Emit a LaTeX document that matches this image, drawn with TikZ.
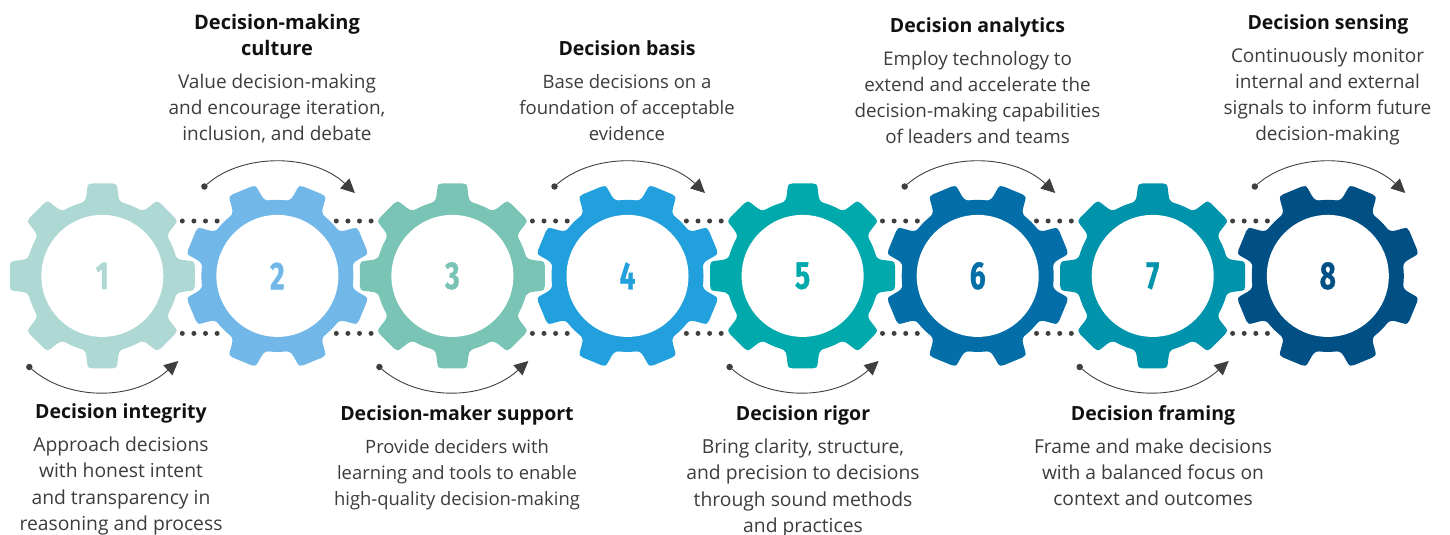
\documentclass[tikz,border=0pt]{standalone}
\usepackage{fontspec}
\usepackage{graphicx}
\setmainfont{Open Sans}
\newfontfamily\numfont[BoldFeatures={FakeBold=0.8}]{Fira Sans}
\usetikzlibrary{arrows.meta}
\definecolor{ga}{HTML}{AED8D3}
\definecolor{gb}{HTML}{71B7E8}
\definecolor{gc}{HTML}{7AC4B6}
\definecolor{gd}{HTML}{21A0DD}
\definecolor{ge}{HTML}{00A9AC}
\definecolor{gf}{HTML}{046EA8}
\definecolor{gg}{HTML}{0094AC}
\definecolor{gh}{HTML}{005085}
\definecolor{ink}{HTML}{403F3D}
\definecolor{bodyink}{HTML}{3C3C3C}
\definecolor{headink}{HTML}{111111}
\tikzset{
  x=1pt,y=-1pt,
  hole/.style={circle,fill=white,minimum size=122pt,inner sep=0pt,font=\numfont\bfseries\fontsize{39}{39}\selectfont},
  pin/.style={circle,fill=ink,minimum size=6.5pt,inner sep=0pt},
  dotpt/.style={circle,fill=ink,minimum size=5pt,inner sep=0pt},
  turn/.style={draw=ink,line width=0.9pt,-{Triangle[length=14pt,width=13.5pt]}},
  head/.style={font=\bfseries\fontsize{#1}{26}\selectfont,text=headink,align=center,inner sep=0pt,anchor=north},
  head/.default=19.5,
  txt/.style={font=\fontsize{#1}{26.1}\selectfont,text=bodyink,align=center,inner sep=0pt,anchor=north},
  txt/.default=19,
}
% #1 name, #2 centre x, #3 colour, #4 start angle, #5 number
\newcommand{\gearat}[5]{%
  \begin{scope}[shift={(#2,275.9)}]
    \fill[#3] (0,0) circle[radius=76];
    \foreach \a in {0,45,...,315}{
      \fill[#3,rotate=\a+#4] (70,-27) .. controls (73,-19) and (75,-16.5) .. (80,-16)
        -- (88,-15) .. controls (91.5,-14.7) and (92.5,-13) .. (92.5,-10)
        -- (92.5,10) .. controls (92.5,13) and (91.5,14.7) .. (88,15)
        -- (80,16) .. controls (75,16.5) and (73,19) .. (70,27) -- cycle;
    }
  \end{scope}
  \node[hole,text=#3] (#1) at (#2,275.9) {\scalebox{0.72}[1]{#5}};
}
% #1 id, #2 first dot x
\newcommand{\dotrow}[3]{%
  \foreach \k/\dx in {1/0,2/11.6,3/23.2,4/34.8}{
    \node[dotpt] (#1r\k) at (#2+\dx,#3) {};
  }
}
\newcommand{\toparc}[2]{%
  \node[pin] (#1p) at (#2-73,186.5) {};
  \coordinate (#1t) at (#2+77.5,193);
  \draw[turn] (#1p) .. controls (#2-35,153) and (#2+35,153) .. (#1t);
}
\newcommand{\botarc}[2]{%
  \node[pin] (#1p) at (#2-73,367) {};
  \coordinate (#1t) at (#2+76,361);
  \draw[turn] (#1p) .. controls (#2-35,400) and (#2+30,402) .. (#1t);
}
\begin{document}
\begin{tikzpicture}
\useasboundingbox (0,0) rectangle (1450,535);
% dotted links
\dotrow{a1}{182.3}{221}\dotrow{a2}{182.3}{333.4}
\dotrow{b1}{336.3}{221}\dotrow{b2}{336.3}{333.4}
\dotrow{c1}{532.4}{221}\dotrow{c2}{532.4}{333.4}
\dotrow{d1}{686.4}{221}\dotrow{d2}{686.4}{333.4}
\dotrow{e1}{882.5}{221}\dotrow{e2}{882.5}{333.4}
\dotrow{f1}{1036.5}{221}\dotrow{f2}{1036.5}{333.4}
\dotrow{g1}{1232.6}{221}\dotrow{g2}{1232.6}{333.4}
% gears
\gearat{n1}{102.3}{ga}{0}{1}
\gearat{n2}{277.4}{gb}{22.5}{2}
\gearat{n3}{452.4}{gc}{0}{3}
\gearat{n4}{627.5}{gd}{22.5}{4}
\gearat{n5}{802.6}{ge}{0}{5}
\gearat{n6}{977.7}{gf}{22.5}{6}
\gearat{n7}{1152.7}{gg}{0}{7}
\gearat{n8}{1327.8}{gh}{22.5}{8}
% arcs
\botarc{s1}{102.3}
\toparc{s2}{277.4}
\botarc{s3}{452.4}
\toparc{s4}{627.5}
\botarc{s5}{802.6}
\toparc{s6}{977.7}
\botarc{s7}{1152.7}
\toparc{s8}{1327.8}
% labels
\node[head=20] (h2) at (277,14) {Decision-making\\culture};
\node[txt] (t2) at (277,74) {Value decision-making\\and encourage iteration,\\inclusion, and debate};
\node[head] (h4) at (627,40) {Decision basis};
\node[txt=18.5] (t4) at (627,74) {Base decisions on a\\foundation of acceptable\\evidence};
\node[head] (h6) at (977.5,17) {Decision analytics};
\node[txt=18.8] (t6) at (977.5,51) {Employ technology to\\extend and accelerate the\\decision-making capabilities\\of leaders and teams};
\node[head] (h8) at (1328,14) {Decision sensing};
\node[txt] (t8) at (1327.5,48) {Continuously monitor\\internal and external\\signals to inform future\\decision-making};
\node[head] (h1) at (121,403) {Decision integrity};
\node[txt=19.3] (t1) at (121,437) {Approach decisions\\with honest intent\\and transparency in\\reasoning and process};
\node[head] (h3) at (457,405) {Decision-maker support};
\node[txt=18.4] (t3) at (457,439) {Provide deciders with\\learning and tools to enable\\high-quality decision-making};
\node[head] (h5) at (803,405) {Decision rigor};
\node[txt=19.3] (t5) at (803,439) {Bring clarity, structure,\\and precision to decisions\\through sound methods\\and practices};
\node[head] (h7) at (1153,405) {Decision framing};
\node[txt=19.2] (t7) at (1153,439) {Frame and make decisions\\with a balanced focus on\\context and outcomes};
\end{tikzpicture}
\end{document}
